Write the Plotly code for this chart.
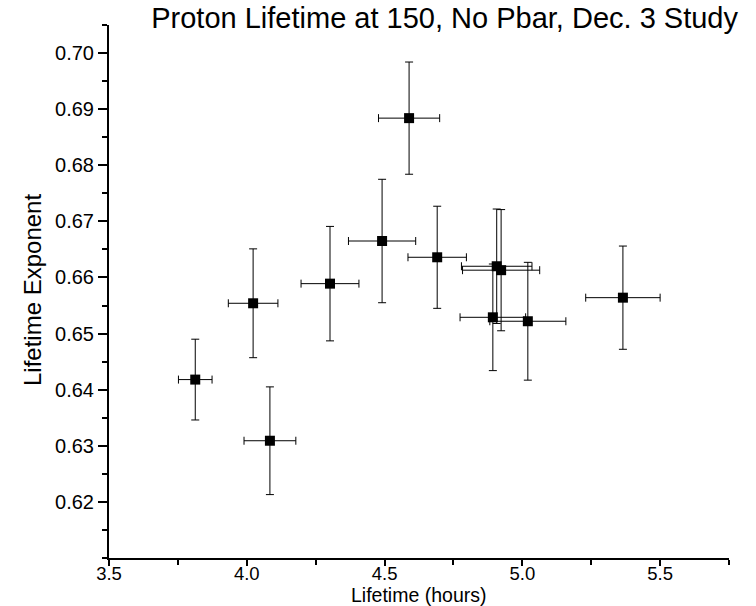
import plotly.graph_objects as go

lifetime = [3.813, 4.084, 4.023, 4.302, 4.491, 4.589, 4.691, 4.907, 4.923, 4.893, 5.020, 5.365]
lifetime_err = [0.061, 0.094, 0.090, 0.105, 0.122, 0.111, 0.106, 0.128, 0.140, 0.119, 0.138, 0.135]
exponent = [0.6418, 0.6309, 0.6554, 0.6589, 0.6665, 0.6884, 0.6636, 0.6620, 0.6613, 0.6529, 0.6522, 0.6564]
exponent_err = [0.0072, 0.0096, 0.0097, 0.0102, 0.0110, 0.0100, 0.0091, 0.0102, 0.0108, 0.0095, 0.0105, 0.0092]

x_ticks = [3.5, 4.0, 4.5, 5.0, 5.5]
x_ticklabels = ["3.5", "4.0", "4.5", "5.0", "5.5"]
y_ticks = [0.62, 0.63, 0.64, 0.65, 0.66, 0.67, 0.68, 0.69, 0.70]
y_ticklabels = ["0.62", "0.63", "0.64", "0.65", "0.66", "0.67", "0.68", "0.69", "0.70"]

FONT = "Liberation Sans, Arial, sans-serif"
PLOT_H = 606 - 25 - 48
PLOT_W = 756 - 109 - 27

fig = go.Figure()
fig.add_trace(go.Scatter(
    x=lifetime, y=exponent, mode="markers",
    marker=dict(symbol="square", size=10, color="black"),
    error_x=dict(type="data", array=lifetime_err, visible=True, color="black", thickness=1, width=4),
    error_y=dict(type="data", array=exponent_err, visible=True, color="black", thickness=1, width=4),
    showlegend=False,
))

axis_common = dict(
    showline=True, linecolor="black", linewidth=2, mirror=False,
    ticks="outside", tickwidth=2, tickcolor="black",
    showgrid=False, zeroline=False,
)

fig.update_layout(
    width=756, height=606,
    paper_bgcolor="white", plot_bgcolor="white",
    margin=dict(l=109, r=27, t=25, b=48, autoexpand=False),
    font=dict(family=FONT, color="black"),
    title=dict(
        text="Proton Lifetime at 150, No Pbar, Dec. 3 Study",
        x=738 / 756, xanchor="right", xref="container",
        y=1 - 18 / 606, yanchor="middle", yref="container",
        font=dict(family=FONT, size=29, color="black"),
    ),
    xaxis=dict(
        range=[3.5, 5.75], tickvals=x_ticks, ticktext=x_ticklabels, ticklen=6,
        ticklabelstandoff=-8,
        tickfont=dict(family=FONT, size=18.5, color="black"),
        minor=dict(dtick=0.25, tick0=3.5, ticks="outside", ticklen=5, tickwidth=2, tickcolor="black"),
        **axis_common,
    ),
    yaxis=dict(
        range=[0.61, 0.705], tickvals=y_ticks, ticktext=y_ticklabels, ticklen=9,
        tickfont=dict(family=FONT, size=20, color="black"),
        minor=dict(dtick=0.005, tick0=0.61, ticks="outside", ticklen=5, tickwidth=2, tickcolor="black"),
        **axis_common,
    ),
    annotations=[
        dict(text="Lifetime (hours)", xref="paper", yref="paper",
             x=(418 - 109) / PLOT_W, y=-(595 - 558) / PLOT_H,
             xanchor="center", yanchor="middle", showarrow=False,
             font=dict(family=FONT, size=19.5, color="black")),
        dict(text="Lifetime Exponent", xref="paper", yref="paper",
             x=-(109 - 32) / PLOT_W, y=(558 - 290) / PLOT_H,
             xanchor="center", yanchor="middle", showarrow=False, textangle=-90,
             font=dict(family=FONT, size=24, color="black")),
    ],
)

fig.write_html("out.html")
